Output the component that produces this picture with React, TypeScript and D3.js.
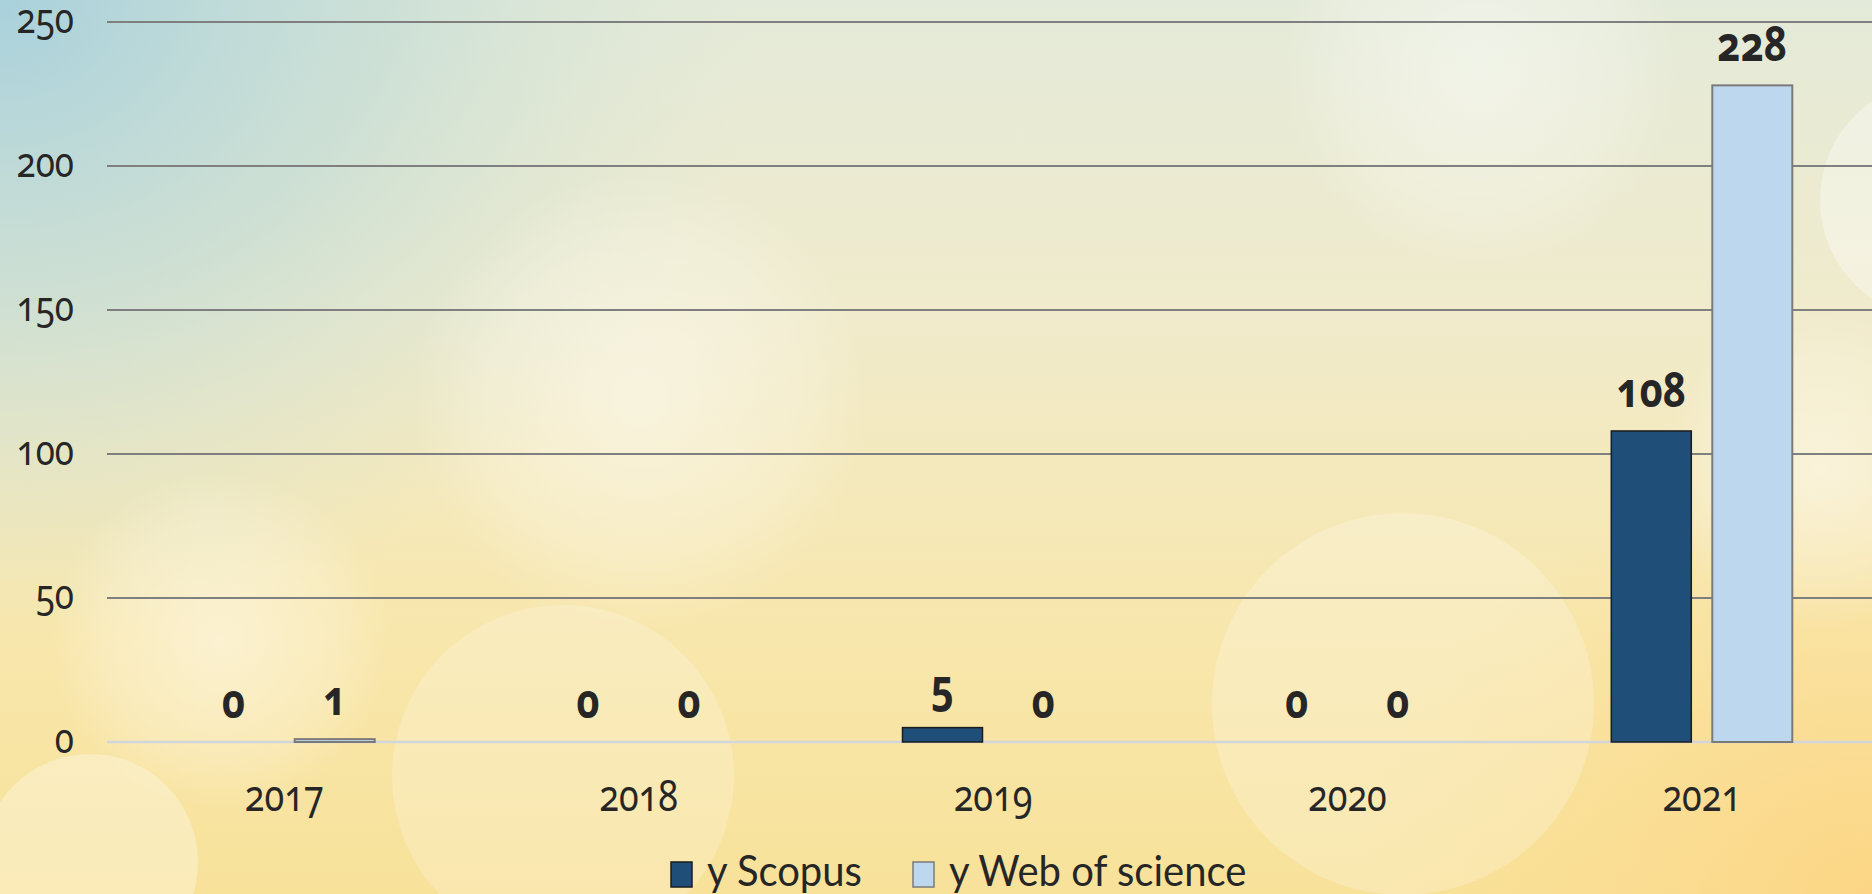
import React from "react";
import * as d3 from "d3";

const years = ["2017", "2018", "2019", "2020", "2021"];
const scopus = [0, 0, 5, 0, 108];
const webOfScience = [1, 0, 0, 0, 228];
const yTicks = [0, 50, 100, 150, 200, 250];
const seriesNames = ["y Scopus", "y Web of science"];
const seriesColors = ["#1f4e79", "#bdd7ee"];
const seriesStrokes = ["#1c1c1c", "#7a7a7a"];

const W = 1872;
const H = 894;
const SY = 1.2; // the picture is a little stretched vertically
const NUM_FONT = "'Noto Sans', 'Open Sans', sans-serif";
const LEGEND_FONT = "Lato, 'Noto Sans', sans-serif";

function T({ x, y, anchor = "middle", size, weight = 400, family = NUM_FONT, sy = SY, children }) {
  return (
    <text
      transform={`translate(${x},${y}) scale(1,${sy})`}
      textAnchor={anchor}
      fontSize={size}
      fontWeight={weight}
      fontFamily={family}
      fill="#262626"
      style={{ fontVariantNumeric: "oldstyle-nums" }}
    >
      {children}
    </text>
  );
}

export default function App() {
  const x0 = d3.scaleBand().domain(years).range([107, 1879]);
  const bw = x0.bandwidth();
  const x1 = d3
    .scaleBand()
    .domain(["0", "1"])
    .range([bw / 2 - 90.5, bw / 2 + 90.5])
    .paddingInner(0.208);
  const y = d3.scaleLinear().domain([0, 250]).range([742, 22]);

  const series = [scopus, webOfScience];

  return (
    <svg
      width={W}
      height={H}
      style={{ position: "absolute", left: 0, top: 0, display: "block" }}
    >
      <defs>
        <linearGradient id="bgv" x1="0" y1="0" x2="0" y2="1">
          <stop offset="0" stopColor="#e4ead9" />
          <stop offset="0.35" stopColor="#f0ebcc" />
          <stop offset="0.7" stopColor="#f8e7ad" />
          <stop offset="1" stopColor="#f8e29a" />
        </linearGradient>
        <radialGradient id="blue" cx="0" cy="0" r="1" gradientUnits="userSpaceOnUse"
          gradientTransform="translate(0,0) scale(760,640)">
          <stop offset="0" stopColor="#a9d1dc" stopOpacity="1" />
          <stop offset="0.5" stopColor="#bcd9d6" stopOpacity="0.6" />
          <stop offset="1" stopColor="#d5e4d6" stopOpacity="0" />
        </radialGradient>
        <radialGradient id="orange" cx="0" cy="0" r="1" gradientUnits="userSpaceOnUse"
          gradientTransform="translate(1872,894) scale(520,420)">
          <stop offset="0" stopColor="#fcd686" stopOpacity="1" />
          <stop offset="1" stopColor="#fbdc90" stopOpacity="0" />
        </radialGradient>
        <radialGradient id="soft">
          <stop offset="0" stopColor="#ffffff" stopOpacity="0.45" />
          <stop offset="0.7" stopColor="#ffffff" stopOpacity="0.2" />
          <stop offset="1" stopColor="#ffffff" stopOpacity="0" />
        </radialGradient>
      </defs>

      <rect width={W} height={H} fill="url(#bgv)" />
      <rect width={W} height={H} fill="url(#blue)" />
      <rect width={W} height={H} fill="url(#orange)" />

      <circle cx={640} cy={400} r={230} fill="url(#soft)" />
      <circle cx={1480} cy={70} r={200} fill="url(#soft)" />
      <circle cx={220} cy={640} r={170} fill="url(#soft)" />
      <circle cx={1820} cy={470} r={160} fill="url(#soft)" />
      <circle cx={1403} cy={704} r={191} fill="#ffffff" fillOpacity={0.22} />
      <circle cx={563} cy={776} r={171} fill="#ffffff" fillOpacity={0.2} />
      <circle cx={90} cy={862} r={108} fill="#ffffff" fillOpacity={0.3} />
      <circle cx={1940} cy={200} r={120} fill="#ffffff" fillOpacity={0.35} />

      {yTicks.filter((t) => t > 0).map((t) => (
        <line key={t} x1={107} x2={W} y1={y(t)} y2={y(t)} stroke="#7f7f7f" strokeWidth={2} />
      ))}
      <line x1={107} x2={W} y1={y(0)} y2={y(0)} stroke="#d2d5dc" strokeWidth={2.5} />

      {yTicks.map((t) => (
        <T key={t} x={74} y={y(t) + 11} anchor="end" size={35}>
          {t}
        </T>
      ))}

      {years.map((yr, i) => (
        <g key={yr} transform={`translate(${x0(yr)},0)`}>
          {series.map((s, k) => {
            const v = s[i];
            const bx = x1(String(k));
            return (
              <g key={k}>
                {v > 0 && (
                  <rect
                    x={bx}
                    y={y(v)}
                    width={x1.bandwidth()}
                    height={y(0) - y(v)}
                    fill={seriesColors[k]}
                    stroke={seriesStrokes[k]}
                    strokeWidth={k === 0 ? 1.5 : 2}
                  />
                )}
                <T x={bx + x1.bandwidth() / 2} y={y(v) - 24} size={40} weight={700}>
                  {v}
                </T>
              </g>
            );
          })}
          <T x={bw / 2} y={811} size={36}>
            {yr}
          </T>
        </g>
      ))}

      {seriesNames.map((name, k) => {
        const lx = [671, 913][k];
        return (
          <g key={name}>
            <rect x={lx} y={862} width={21} height={25} fill={seriesColors[k]}
              stroke={seriesStrokes[k]} strokeWidth={1.5} />
            <T x={lx + 36} y={886} anchor="start" size={40} family={LEGEND_FONT} sy={1.08}>
              {name}
            </T>
          </g>
        );
      })}
    </svg>
  );
}
